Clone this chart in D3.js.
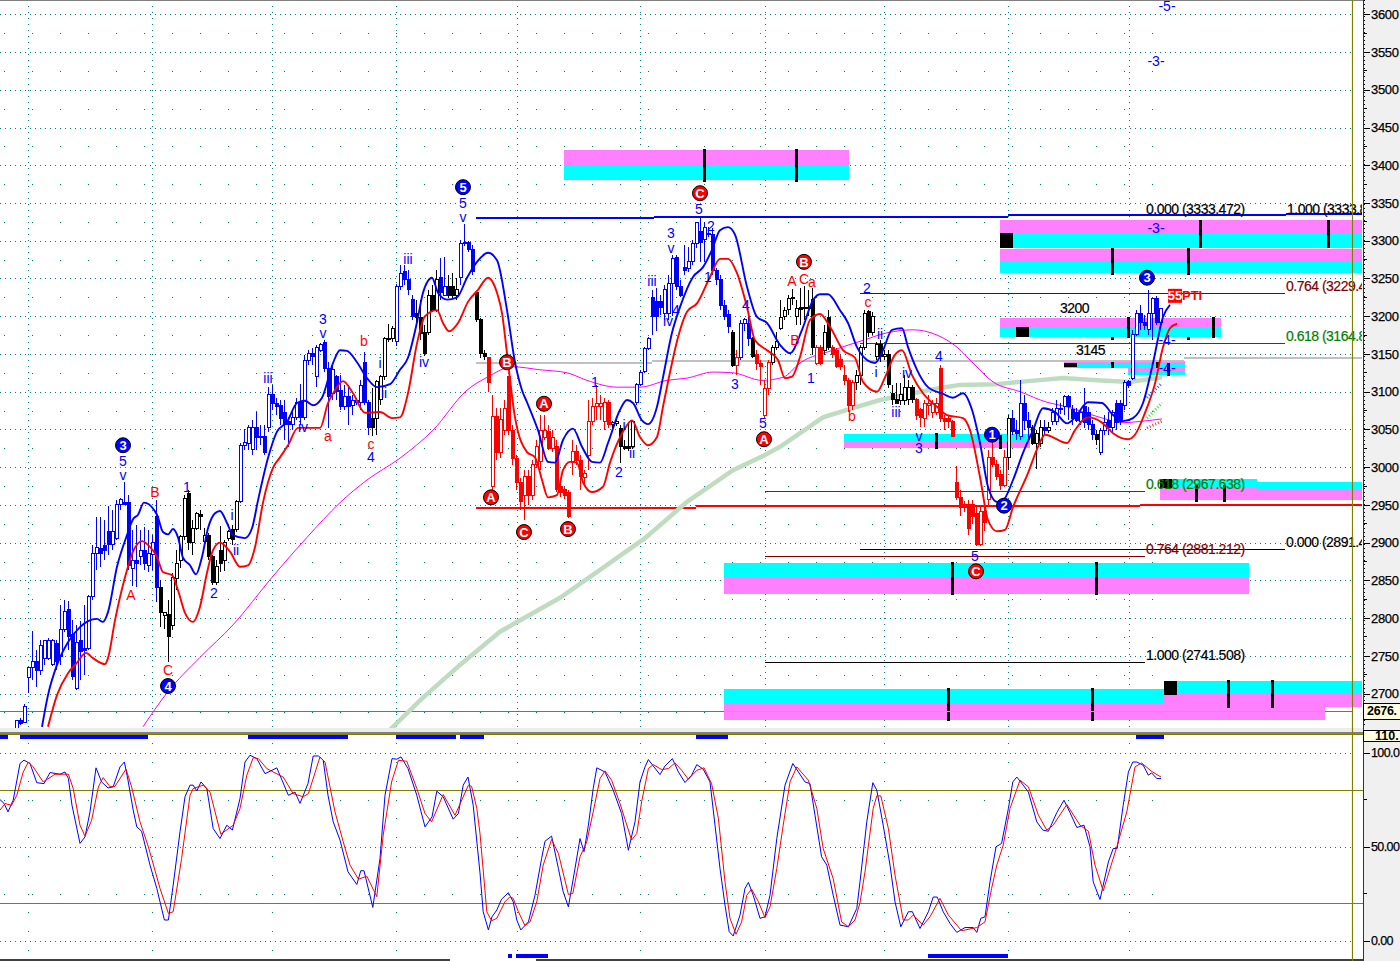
<!DOCTYPE html>
<html><head><meta charset="utf-8">
<script src="https://d3js.org/d3.v7.min.js"></script>
<style>
html,body{margin:0;padding:0;background:#fff;overflow:hidden}
text{font-family:"Liberation Sans",Arial,sans-serif}
</style></head><body><svg id="c" width="1400" height="961"></svg>
<script>
// ---- candles: [open, high, low, close], first bar is index 4
const run1=[[2648,2665,2648,2664],[2664,2668,2658,2661],[2662,2686,2661,2683],[2721,2735,2701,2735],[2735,2783,2718,2743],[2743,2758,2709,2730],[2730,2771,2725,2764],[2747,2771,2738,2770],[2747,2774,2744,2770],[2738,2772,2736,2770],[2767,2771,2731,2742],[2749,2817,2738,2785],[2785,2824,2782,2809],[2811,2823,2758,2776],[2778,2797,2718,2723],[2707,2791,2705,2768],[2770,2796,2718,2756],[2760,2817,2725,2757],[2760,2831,2758,2828],[2828,2897,2824,2885],[2885,2934,2864,2894],[2892,2934,2868,2886],[2896,2930,2877,2889],[2915,2949,2884,2898],[2898,2943,2890,2915],[2906,2957,2903,2950],[2950,2959,2943,2957],[2953,2980,2950,2950],[2953,2963,2864,2870],[2866,2917,2843,2877],[2877,2923,2841,2873],[2882,2917,2870,2889],[2889,2921,2864,2872],[2870,2917,2861,2886],[2884,2910,2864,2900],[2934,2956,2821,2840]];
const run2=[[2840,2850,2788,2807],[2804,2808,2785,2807],[2805,2824,2742,2776],[2790,2860,2784,2854],[2853,2890,2837,2873],[2877,2910,2866,2908],[2908,2963,2904,2959],[2965,2970,2890,2900],[2900,2930,2884,2919],[2919,2941,2917,2938],[2937,2943,2917,2934],[2902,2919,2897,2909],[2909,2913,2877,2881],[2881,2884,2844,2847],[2847,2877,2844,2868],[2889,2922,2861,2873],[2876,2904,2862,2900],[2905,2917,2902,2915],[2917,2923,2897,2904],[2917,2957,2914,2955]];
const run3=[[2955,3032,2953,3029],[3029,3050,3023,3033],[3032,3056,3023,3053],[3024,3063,3016,3053],[3052,3073,3023,3039],[3039,3056,3029,3041],[3041,3056,3016,3020],[3052,3106,3047,3096],[3096,3109,3076,3085],[3085,3092,3069,3081],[3082,3089,3056,3065],[3073,3089,3036,3056],[3060,3066,3027,3056],[3056,3076,3049,3066],[3066,3092,3062,3086],[3086,3110,3056,3066],[3066,3149,3062,3141],[3141,3155,3135,3151],[3151,3158,3135,3146],[3120,3162,3106,3159],[3155,3165,3152,3163],[3165,3169,3126,3131],[3131,3139,3052,3094],[3098,3135,3089,3129],[3120,3122,3089,3100],[3102,3122,3076,3080],[3080,3109,3076,3094],[3094,3109,3056,3080],[3082,3096,3069,3088],[3086,3092,3082,3088],[3086,3116,3076,3108],[3139,3153,3082,3086],[3086,3089,3043,3053]];
const run4=[[3065,3105,3041,3053],[3065,3116,3043,3113],[3089,3122,3082,3120],[3120,3173,3116,3170],[3170,3190,3166,3171],[3170,3187,3166,3184]];
const run5=[[3166,3243,3161,3240],[3240,3268,3235,3256],[3259,3268,3241,3248],[3249,3261,3228,3235],[3222,3228,3195,3200]];
const run6=[[3203,3221,3188,3198],[3198,3222,3169,3177],[3178,3188,3147,3150],[3178,3235,3175,3227],[3227,3241,3205,3208],[3208,3261,3206,3249]];
const run7=[[3251,3277,3222,3231],[3228,3278,3228,3239]];
const run8=[[3239,3255,3224,3228],[3239,3257,3224,3228],[3228,3250,3222,3236]];
const run9=[[3251,3301,3241,3296],[3296,3322,3293,3297],[3297,3299,3285,3288],[3288,3295,3255,3259]];
const run10=[[3231,3232,3192,3195],[3195,3198,3145,3151],[3151,3155,3142,3146]];
const run11=[[3145,3145,3100,3112],[2974,3096,2970,3067],[3067,3078,3010,3019],[3019,3078,3012,3063],[3049,3089,3043,3078],[3120,3121,3043,3049],[3049,3056,3003,3011],[3011,3016,2970,2980],[2980,2986,2943,2955],[2963,2996,2930,2987],[2987,2996,2950,2963],[2963,3009,2956,3003],[3003,3036,2999,3027],[3007,3069,2996,3049],[3039,3069,3036,3049],[3047,3056,3023,3025],[3025,3049,3020,3039],[3027,3036,2967,2971],[2974,2983,2961,2966],[2970,2974,2958,2963],[2966,2970,2933,2934],[3007,3036,2990,3021],[3021,3029,3003,3009],[3009,3016,2970,2987],[2986,2996,2976,2992],[3016,3089,2996,3061],[3061,3092,3056,3080],[3080,3109,3062,3084],[3081,3096,3062,3084],[3061,3092,3049,3086],[3086,3089,3052,3056]];
const run12=[[3056,3061,3052,3059],[3058,3065,3055,3060],[3051,3056,3006,3027],[3028,3036,3023,3025],[3028,3060,3022,3025],[3027,3061,3024,3061]];
const run13=[[3086,3112,3082,3109],[3110,3129,3107,3125],[3127,3159,3125,3157],[3157,3173,3155,3170],[3225,3235,3175,3199],[3220,3237,3180,3199],[3220,3228,3202,3211],[3204,3241,3195,3235],[3204,3255,3195,3244],[3244,3281,3200,3277],[3278,3281,3235,3240],[3240,3248,3225,3228],[3264,3294,3255,3261],[3263,3292,3259,3272],[3272,3301,3268,3296],[3296,3325,3290,3324],[3312,3330,3272,3298],[3301,3325,3272,3317],[3310,3318,3305,3308],[3308,3317,3255,3261],[3260,3264,3241,3248],[3248,3255,3208,3214],[3214,3221,3195,3200],[3202,3208,3178,3186]];
const run14=[[3179,3182,3133,3135]];
const run15=[[3135,3155,3122,3145]];
const run16=[[3145,3195,3142,3191],[3191,3198,3180,3195],[3191,3202,3161,3171]];
const run17=[[3170,3172,3145,3147]];
const run18=[[3149,3155,3129,3138],[3138,3142,3109,3134],[3068,3115,3065,3104],[3104,3142,3096,3139]];
const run19=[[3139,3162,3135,3159],[3159,3179,3155,3166],[3184,3221,3182,3198],[3199,3212,3195,3208],[3209,3228,3202,3224],[3225,3236,3215,3223],[3200,3221,3188,3210],[3211,3237,3188,3209],[3212,3240,3195,3210],[3212,3235,3200,3210],[3222,3237,3149,3158]];
const run20=[[3138,3162,3135,3158],[3158,3162,3135,3138]];
const run21=[[3155,3188,3149,3178],[3198,3208,3155,3159]];
const run22=[[3159,3162,3145,3149],[3154,3158,3131,3134],[3142,3149,3129,3133],[3122,3135,3109,3115],[3115,3118,3073,3082],[3082,3116,3076,3112]];
const run23=[[3112,3129,3102,3121],[3121,3162,3109,3159],[3159,3208,3155,3204],[3206,3208,3172,3178],[3178,3206,3175,3200],[3146,3166,3142,3162],[3162,3168,3139,3146],[3146,3155,3142,3149],[3149,3155,3105,3110],[3097,3109,3082,3089],[3090,3112,3085,3085],[3088,3112,3082,3096],[3088,3122,3082,3105],[3089,3116,3082,3105],[3106,3109,3085,3090]];
const run24=[[3090,3092,3062,3068],[3076,3079,3053,3066],[3065,3089,3053,3084],[3082,3096,3069,3085],[3072,3089,3065,3085],[3073,3092,3069,3085],[3131,3135,3060,3065],[3065,3069,3049,3060],[3064,3069,3052,3060],[3060,3062,3040,3041],[2980,3001,2957,2960],[2960,2970,2935,2946],[2950,2955,2940,2946],[2950,2957,2910,2919],[2950,2957,2925,2934],[2939,2950,2896,2897],[2897,2950,2896,2941],[2941,2950,2915,2927],[2957,3023,2950,3013],[3013,3036,3000,3003],[3004,3009,2983,2987],[2990,2996,2970,2976],[2976,3023,2974,3013]];
const run25=[[3013,3069,2996,3064]];
const run26=[[3064,3076,3043,3047],[3049,3062,3036,3045],[3040,3116,3036,3084],[3084,3096,3049,3062],[3062,3073,3036,3053]];
const run27=[[3053,3056,3030,3031],[3031,3049,2998,3045],[3031,3062,3027,3053]];
const run28=[[3053,3062,3043,3048]];
const run29=[[3048,3060,3045,3053]];
const run30=[[3060,3079,3056,3072],[3060,3089,3056,3078],[3076,3085,3070,3078],[3080,3096,3069,3093],[3093,3096,3062,3080],[3077,3082,3056,3064],[3073,3078,3060,3062],[3060,3076,3056,3072],[3080,3105,3052,3059],[3072,3080,3049,3056],[3057,3062,3036,3043]];
const run31=[[3043,3049,3029,3036]];
const run32=[[3019,3052,3016,3049],[3049,3069,3043,3059],[3062,3073,3043,3052],[3052,3076,3045,3072],[3085,3089,3049,3059],[3085,3089,3056,3060],[3082,3116,3076,3112],[3113,3116,3105,3108],[3118,3182,3116,3176],[3176,3208,3174,3203],[3203,3215,3182,3192],[3192,3202,3182,3188],[3183,3235,3175,3204],[3204,3224,3168,3224],[3224,3227,3188,3192],[3192,3210,3188,3210]];
const candleRuns=[["b",run1],["k",run2],["b",run3],["k",run4],["b",run5],["k",run6],["b",run7],["k",run8],["b",run9],["k",run10],["r",run11],["k",run12],["b",run13],["k",run14],["r",run15],["b",run16],["k",run17],["r",run18],["k",run19],["r",run20],["k",run21],["r",run22],["k",run23],["r",run24],["k",run25],["b",run26],["k",run27],["b",run28],["k",run29],["b",run30],["k",run31],["b",run32]];

// ---- moving averages: [bar index, price]
const maBlue=[[10.5,2656],[12,2698],[14.25,2738],[17,2768],[20,2788],[22,2796],[24.25,2799],[25.75,2795],[27,2808],[29.25,2868],[31.75,2910],[33.25,2931],[34.5,2937],[36,2953],[39.25,2937],[40.75,2914],[42,2911],[43.25,2918],[44.5,2907],[45.75,2880],[47.5,2870],[49,2858],[50.5,2881],[52,2919],[53.75,2939],[55,2942],[56.75,2926],[58.25,2910],[61.25,2906],[63,2919],[64.5,2956],[67,3012],[69.25,3047],[71.75,3060],[74.25,3085],[76.25,3088],[78.25,3082],[80.5,3092],[83.25,3138],[85,3155],[86.75,3154],[89.25,3139],[91.75,3118],[94.25,3106],[97.5,3110],[100,3129],[102,3145],[104.25,3192],[105.75,3231],[108,3251],[109.5,3231],[111.75,3222],[114.25,3225],[116.75,3251],[119.25,3272],[122,3284],[124.25,3274],[126.75,3208],[128.75,3139],[130.5,3102],[131.75,3086],[134.5,3049],[137,3007],[138.75,3006],[140.75,3036],[143.25,3051],[145.5,3027],[148,3007],[150,3006],[152,3032],[155,3076],[156.75,3089],[158.25,3085],[160.5,3062],[162,3057],[164.25,3080],[165.75,3119],[168,3178],[170,3212],[173.25,3252],[175.75,3265],[178,3288],[180,3314],[182,3318],[183.75,3308],[186.75,3239],[189.25,3199],[191.75,3191],[195,3162],[197.5,3151],[200.5,3182],[203.25,3221],[205,3229],[207,3229],[210,3208],[212,3191],[214.25,3159],[216.75,3142],[218.75,3138],[220.75,3155],[223,3182],[225.5,3184],[227,3159],[229.25,3129],[232,3106],[235.75,3097],[238.25,3092],[240.75,3098],[243,3076],[245,3032],[247,2974],[249.25,2954],[250.75,2956],[253.25,2983],[255.75,3019],[258.25,3049],[260.75,3078],[263.75,3073],[266.75,3058],[268.75,3066],[272,3086],[275.5,3085],[278.25,3069],[280.75,3061],[283.25,3065],[285.75,3085],[288.25,3138],[290.75,3199],[292.5,3215]];
const maRed=[[12,2656],[14.25,2698],[17,2727],[19.25,2741],[21.5,2754],[23.25,2747],[26.25,2739],[27,2747],[28.75,2797],[31.25,2854],[33.25,2888],[35.5,2902],[37,2897],[39.25,2881],[40.75,2861],[43,2857],[44.5,2837],[46.25,2807],[48.25,2795],[50,2815],[51.75,2860],[53.25,2890],[55,2900],[57.5,2888],[60,2868],[62,2870],[63.75,2894],[65.75,2953],[68.25,2999],[70,3013],[72,3029],[74.5,3052],[80,3052],[82,3085],[83.75,3102],[85.75,3114],[88.25,3098],[91.25,3072],[95,3073],[98,3065],[100,3066],[102,3098],[104.25,3164],[106.25,3200],[109.25,3208],[110.75,3191],[112.25,3180],[114.5,3191],[117,3219],[119.5,3235],[122,3251],[124.25,3231],[125.5,3204],[126.75,3151],[128.75,3066],[131.75,3020],[133.75,3013],[135.5,2983],[137,2960],[139.25,2963],[140.75,2996],[142.5,3007],[144.25,3006],[145.75,2980],[148,2967],[150.75,2974],[152.5,3006],[155.75,3047],[158,3062],[160,3040],[162,3029],[164.25,3040],[165.75,3080],[168,3138],[169.5,3172],[171.75,3206],[174.25,3217],[177.5,3252],[180,3276],[182,3276],[184.25,3257],[186.75,3212],[188.75,3168],[191.75,3155],[194.5,3142],[196.25,3118],[198,3120],[200,3146],[202.5,3195],[205,3203],[207.5,3186],[210.75,3155],[213.75,3145],[215.75,3113],[219.25,3100],[221.25,3119],[223.75,3149],[225.5,3155],[228,3122],[230.75,3098],[234.25,3080],[236.75,3069],[240.75,3065],[242.5,3049],[245,2987],[247,2930],[249.25,2915],[251.25,2917],[253.25,2947],[257,2992],[259.5,3027],[261.25,3043],[266.75,3032],[268.75,3049],[272,3066],[275.5,3059],[278.25,3045],[282,3037],[283.75,3043],[286.25,3072],[288.75,3111],[290.75,3159],[292.5,3184],[294.25,3190]];
const maMagenta=[[35.75,2656],[41.75,2701],[50,2748],[58.25,2791],[68,2854],[76.75,2907],[85,2953],[91.75,2983],[100,3012],[108.25,3049],[116.75,3102],[121.75,3119],[128.25,3133],[135,3129],[141.75,3125],[146.75,3115],[154.25,3106],[160,3106],[166.75,3115],[171.75,3118],[178.25,3126],[183.25,3125],[190.5,3115],[195.75,3119],[200,3138],[208.25,3155],[215.75,3168],[221.75,3178],[228.25,3182],[234.25,3175],[239.25,3159],[243.25,3138],[248.25,3113],[255,3100],[261.75,3086],[266.75,3080],[275,3066],[280.75,3059],[285.75,3061],[290.5,3064]];
const maGreen=[[97.5,2652],[105,2691],[115,2738],[125,2782],[140,2827],[150,2864],[161.25,2906],[171.75,2954],[183.25,2996],[191.25,3016],[195,3027],[200,3045],[205.75,3066],[211.75,3076],[220,3089],[228.25,3098],[235,3105],[240,3109],[249.25,3110],[255,3113],[265.75,3118],[274.25,3115],[282.5,3113],[290.5,3119]];
const hatchBlue=[[286.75,3092],[290.5,3111.5]],hatchGreen=[[286.75,3065],[290.5,3085]],hatchRed=[[286.75,3052],[290.5,3061]];

// ---- stochastic oscillator: [bar index, value]
const stochK=[[0,75],[1,73],[2,68.5],[3.3,74.7],[5,94.2],[6,96],[7.5,94.2],[9.2,84],[11,83.5],[12.5,89.4],[15,88.5],[16.25,89.7],[17.1,86.2],[18,72],[20,51.7],[21.25,55.2],[22.5,68.5],[24,91.9],[25.4,84.4],[27,81.2],[28.3,81.8],[30,92.4],[31.1,95],[32,85.3],[33.3,69.4],[34.2,60.5],[35.4,58.2],[37.5,40.2],[39.2,27.8],[41.1,11],[42.1,11],[43.3,29.6],[45,57.9],[46.25,76.5],[47.5,82.7],[48.3,82.7],[49.2,79.6],[50.25,84.4],[51.7,80.9],[53.3,59.6],[55,54.3],[56.7,61.4],[58.1,58.8],[60,75.6],[61.25,95],[62.5,98.6],[64.2,96.8],[66.25,88.8],[68,90.6],[69.2,91.9],[72.1,77.3],[73.75,79],[75,73],[77,83.5],[78.3,98.2],[79.6,98.2],[80.8,96],[82,77.3],[83.3,63.2],[85,53.5],[87,36.6],[89.2,29.9],[90.2,37.2],[91,37.2],[93.2,17.7],[95,43.7],[96.25,77.3],[98,96.8],[99.2,96.5],[100.25,97.7],[102,91.5],[104.2,77.3],[106.25,60.5],[108,65.8],[109.2,79.5],[110.8,76.5],[113.3,64.6],[114.6,67.6],[115.8,82.7],[117,87],[118.3,72],[120,36],[120.8,15.4],[122.1,5.7],[123,12.7],[124.2,16.3],[125.4,22.1],[127.1,25.5],[128.3,20.7],[129.2,11],[130.2,5.7],[132.1,10],[133.75,24.2],[135.4,43.7],[136.25,52.9],[137.9,55.6],[139.6,38.4],[140.8,26],[142.1,18],[143.75,38.4],[145,54.3],[146,47.3],[147.1,61.4],[148.3,80.9],[149.2,91.9],[151.25,89.7],[153.3,80],[155.4,67.6],[157.1,48.1],[158.75,63.2],[160,84.4],[161.25,92.4],[162.1,96.3],[163.3,92.9],[165,88.3],[166.25,92.9],[168.1,96.8],[169.6,89.7],[171.25,84.1],[172.9,88],[174.2,93.6],[175.8,91.2],[177.5,84.4],[178.75,61.4],[180,38.4],[181.25,18.9],[182.3,4.8],[183.3,2.5],[185,13.6],[186.25,27.8],[187.1,31],[188.3,24.2],[190,11.9],[191.25,12.7],[192.5,24.2],[194.2,54.3],[196.25,82.7],[198.2,94.2],[199.6,89.7],[201.25,84.4],[202.5,83.5],[203.75,66.7],[205.4,44.6],[206.7,40.2],[208.3,24.2],[210,8.3],[212.1,7.4],[214.2,17.2],[215,31.3],[216.7,63.2],[218.2,84],[219.2,80],[220.8,61.4],[222.5,40.2],[223.75,20.7],[225.2,7.4],[227.1,15.4],[228.1,15.4],[230,6.5],[232.1,15.4],[233.3,23.2],[234.3,23.2],[235.8,15.4],[237.5,9.2],[239.2,4.4],[241.25,7],[243.3,7],[244.2,4.4],[245.2,11.9],[246.25,12.7],[247.5,31.3],[249,49.9],[250.4,51.7],[252.1,70.3],[253.2,84.4],[254.2,87],[255.8,82.7],[257.1,79],[259.2,63.2],[260.7,58.8],[262.1,58.2],[264.2,68.1],[266,74.7],[267.5,68.1],[269.2,60.2],[271,61.4],[272.5,49.9],[273.3,31.3],[275,21.9],[277.1,41.9],[278.3,49],[279.3,49],[280.8,72],[282.1,89.7],[283.2,95],[284.2,95],[285.8,93.3],[287.1,88],[287.9,89.2],[289.2,86.2],[290.25,86.2]];
const stochD=[[0,69.4],[1.25,72.9],[2.9,72],[4.2,77.3],[5.8,89.7],[7.1,95],[8.3,92.4],[10.8,84.4],[13.75,88.5],[17.1,88.5],[18.3,80.9],[20,61.4],[21.25,55.6],[22.9,64],[24.6,81.8],[25.8,86.7],[27.5,81.8],[28.75,82.1],[31.5,91.2],[32.9,81.8],[35,63.2],[37.1,49.9],[40,27.8],[42.1,14.5],[43.3,15.4],[45.4,43.7],[47.5,77.3],[48.3,80.9],[50.8,82.7],[52.5,79],[55.2,56.6],[58.3,61.4],[60,70.3],[61.7,88],[63.3,97.3],[64.6,96.8],[66.7,91.5],[68.3,89.7],[70.8,87],[73.3,78.2],[75.8,76.5],[77.1,78.2],[80,97.7],[81.25,95],[83.75,68.5],[85.8,52.6],[87.5,40.2],[89.6,32.7],[91.7,34.3],[94.2,23.4],[95.8,56.1],[97.9,84.4],[99.6,95.9],[101.7,95.4],[104.2,80.9],[106.25,67.6],[107.9,63.2],[110.8,77.7],[113.75,66.7],[117.1,82.7],[117.9,82.1],[119.2,70.3],[120,57],[121.7,15.4],[122.9,10.6],[124.2,11.9],[126.25,20.7],[127.5,23.4],[128.3,22.5],[129.6,15.4],[131.25,8],[132.5,10],[134.2,20.7],[135.8,40.2],[137.9,53.8],[139.6,46.4],[142.1,24.6],[143.2,25.1],[145,44.6],[146.7,52.6],[148.3,68.5],[150,86.2],[151.25,90.3],[152.9,85.3],[155,72.9],[157.9,53.5],[159.2,57],[160.4,73.8],[162.1,91.5],[163.3,93.6],[165.4,91],[167.1,91.5],[168.75,94.5],[170.4,90.6],[172.1,85.8],[174.2,90.6],[176,91.9],[177.9,83.5],[179.6,65],[181.25,31.3],[182.5,11.9],[184,3.4],[185.4,10],[186.7,24.2],[187.9,27.4],[189.6,20.7],[191.25,12.2],[192.5,18],[194.2,38.4],[195.8,61.4],[197.5,84.4],[199.2,92.4],[202.1,85.3],[204.2,70.3],[205.8,49],[208.3,33],[210.4,10],[212.1,7.4],[213.75,11],[215,20.2],[216.25,36.6],[218.3,70.3],[219.2,77],[220.2,77],[222.1,59.6],[223.75,34.9],[225.8,11],[227.1,11],[228.3,13.6],[230.8,8.3],[232.5,12.7],[235,22.5],[237.1,13.6],[240.4,5.3],[244.2,7],[246.25,10],[247.9,27.8],[249.2,40.2],[250.8,50.8],[252.5,70.3],[255,85.3],[257.1,81.8],[259.6,66.7],[261.7,58.8],[263.3,61.4],[266.7,72.4],[270,61.4],[272.1,58.2],[273.75,40.2],[275.8,26.5],[279.2,49.9],[281.7,68.5],[283.75,92.4],[285.4,94.5],[287.9,90],[290.25,87]];

// ---- time/price zones: [from bar, to bar, price top, price bottom, kind]
const zones=[[141,212.25,3420,3400,"m"],[141,212.25,3400,3380.5,"c"],[250,340.5,3327.5,3309,"m"],[250,340.5,3309,3290.5,"c"],[250,340.5,3289,3272,"m"],[250,340.5,3272,3257,"c"],[250,305.25,3198,3184,"m"],[250,305.25,3184,3172.5,"c"],[266,296.25,3141,3137,"m"],[266,296.25,3137,3131,"c"],[282,296.25,3131,3126,"m"],[282,296.25,3126,3122,"c"],[211,257.5,3044,3035,"c"],[211,257.5,3035,3025,"m"],[290,314.25,2984,2974,"c"],[290,314.25,2974,2956.5,"m"],[314.25,340.5,2980,2970,"c"],[314.25,340.5,2970,2956.5,"m"],[181,312.25,2873,2853,"c"],[181,312.25,2853,2832,"m"],[181,291,2706,2686,"c"],[181,331.25,2686,2665,"m"],[291,340.5,2717,2699.5,"c"],[291,340.5,2699.5,2682,"m"]];
const zoneBars=[[176.1,3422,3378],[199.1,3422,3378],[300,3328,3290.5],[332,3328,3290.5],[278,3290.5,3255],[297,3290.5,3255],[282,3199,3171],[303.25,3199,3171],[278,3172,3169],[297,3172,3169],[278,3142,3131],[289.25,3142,3131],[292,3138,3121],[234,3045,3024],[250,3043,3024],[299,2976,2954],[306,2976,2954],[238,2874,2831],[274,2874,2831],[237,2707,2664],[273,2707,2664],[307,2718,2681],[318,2718,2681]];
const zoneBlocks=[[250,253.25,3310,3290.5],[254,257.25,3186,3172.5],[266,269.25,3138,3133],[290,293,2984,2972],[291,294.25,2717,2698]];

// ---- horizontal levels: [from bar, to bar, price]
const levelBlue=[[119,163.5,3330],[163.5,252,3332],[252,321.5,3334],[321.5,340.5,3335]];
const levelGray=[[119,163,3138],[163,296,3141],[296,340.5,3145]];
const levelRed=[[119,174,2946],[174,285,2948],[285,340.5,2950]];
const levelThin=[[252,286.25,3333,"#000"],[215,321.25,3229.5,"#800000"],[215,321.25,3164,"#006400"],[191.25,286.25,2968,"#006400"],[215,321.25,2891,"#000"],[191.25,286.25,2881.5,"#800000"],[191.25,286.25,2741.5,"#000"]];
const fibLabels=[["0.000 (3333.472)",286.5,3342,"#000"],["1.000 (3333.8",321.75,3342,"#000"],["0.764 (3229.4",321.5,3240,"#800000"],["0.618 (3164.8",321.5,3174,"#008000"],["0.618 (2967.638)",286.5,2978,"#008000"],["0.764 (2881.212)",286.5,2892,"#800000"],["0.000 (2891.4",321.5,2901,"#000"],["1.000 (2741.508)",286.5,2751,"#000"],["3200",265,3211,"#000"],["3145",269,3155,"#000"]];

// ---- wave labels: [text, bar, price]
const waveBlue=[["5",30.75,3008],["v",30.75,2990],["1",46.75,2974],["2",53.5,2833],["i",58,2937],["ii",59,2890],["iii",67,3118],["iv",75.75,3053],["3",80.75,3196],["v",80.75,3178],["4",92.75,3013],["i",95,3138],["ii",96,3098],["iii",102,3276],["iv",106,3139],["5",115.75,3350],["v",115.75,3331],["1",148.75,3113],["2",154.75,2994],["i",156,3056],["ii",158,3019],["iii",163,3247],["iv",167,3194],["3",167.75,3310],["v",167.75,3290],["4",169,3208],["5",174.75,3342],["2",177.75,3320],["1",177,3252],["4",186.5,3215],["3",183.75,3110],["5",190.75,3059],["1",202.75,3118],["2",216.75,3237],["i",219,3126],["ii",220,3176],["iii",224,3073],["iv",226.75,3125],["4",234.75,3147],["v",229.75,3041],["3",229.75,3025],["5",243.75,2882],["-5-",291.75,3611],["-3-",289,3538],["-3-",289,3317],["-4-",291.75,3168],["-4-",291.75,3131]];
const waveRed=[["A",32.75,2831],["B",38.75,2967],["C",42,2731],["a",82,3041],["b",91,3167],["c",92.75,3031],["A",198,3247],["C",201,3249],["a",203,3245],["B",198.75,3168],["b",213,3068],["c",217,3219]];
const circledBlue=[["3",30.75,3029],["4",42,2710],["5",115.75,3371],["1",248,3043],["2",251,2949],["3",286.75,3251]];
const circledRed=[["C",175,3363],["B",201,3272],["B",126.75,3139],["A",122.75,2960],["A",136,3084],["C",131,2914],["B",142,2918],["A",191,3037],["C",244,2862]];

// ---- axes and grid
const priceTicks=d3.range(2700,3601,50);
const priceMinor=d3.range(2675,3600,50);
const oscTicks=[100,50,0];
const oscLabels={100:"100.0",50:"50.00",0:"0.00"};
const oscGuides=[80,20];
const oscMinor=[75,25];
const oscDots=d3.range(-5,106,10);
const gridBars=[7,38,68,99,129.25,160,191.25,221,252,282.25];
const dotBars=d3.range(1,289,7);
const flagTop=[[0,2],[5,37],[62,87],[99,114],[115,121],[174,182],[284,291]];
const flagBottom=[[127,128],[129,137],[232,252]];
const lastPrice=2677, lastPriceLabel="2676.", oscLastLabel="110.";

const tone={b:"#0000ff",k:"#000000",r:"#ff0000"};
const W=1400,H=961,plotR=1363;
const x=d3.scaleLinear().domain([0,340.75]).range([0,plotR]);
const y=d3.scaleLinear().domain([2700,3600]).range([693.6,14.3]);
const o=d3.scaleLinear().domain([0,100]).range([940.7,752.6]);
const svg=d3.select("#c");
svg.append("defs").append("clipPath").attr("id","top").append("rect").attr("width",1362).attr("height",728);
const dotC="#008080";
const crisp=v=>Math.round(v)+.5;

// grid, top pane
const gT=svg.append("g").attr("clip-path","url(#top)");
gT.append("g").selectAll("line").data(priceTicks).join("line").attr("x1",0).attr("x2",1352)
  .attr("y1",d=>crisp(y(d))).attr("y2",d=>crisp(y(d))).attr("stroke",dotC).attr("stroke-dasharray","1 4");
gT.append("g").selectAll("line").data(gridBars).join("line").attr("x1",d=>crisp(x(d))).attr("x2",d=>crisp(x(d)))
  .attr("y1",0).attr("y2",728).attr("stroke",dotC).attr("stroke-dasharray","1 5");
priceMinor.forEach(p=>gT.append("g").selectAll("rect").data(dotBars).join("rect")
  .attr("x",d=>Math.round(x(d))).attr("y",Math.round(y(p))).attr("width",1).attr("height",1).attr("fill",dotC));

// zones
gT.append("g").selectAll("rect").data(zones).join("rect").attr("shape-rendering","crispEdges")
  .attr("x",d=>x(d[0])).attr("width",d=>x(d[1])-x(d[0])).attr("y",d=>y(d[2])).attr("height",d=>y(d[3])-y(d[2]))
  .attr("fill",d=>d[4]==="c"?"#00ffff":"#ff80ff");
gT.append("g").selectAll("rect").data(zoneBars).join("rect").attr("shape-rendering","crispEdges")
  .attr("x",d=>x(d[0])-1.5).attr("width",3).attr("y",d=>y(d[1])).attr("height",d=>y(d[2])-y(d[1])).attr("fill","#000");
gT.append("g").selectAll("rect").data(zoneBlocks).join("rect").attr("shape-rendering","crispEdges")
  .attr("x",d=>x(d[0])).attr("width",d=>x(d[1])-x(d[0])).attr("y",d=>y(d[2])).attr("height",d=>y(d[3])-y(d[2])).attr("fill","#000");

// levels
function levels(a,c,w){gT.append("g").selectAll("line").data(a).join("line").attr("shape-rendering","crispEdges")
  .attr("x1",d=>x(d[0])).attr("x2",d=>x(d[1])).attr("y1",d=>y(d[2])).attr("y2",d=>y(d[2])).attr("stroke",d=>d[3]||c).attr("stroke-width",w);}
levels(levelGray,"#c0c0c0",2);
levels(levelRed,"#ff0000",2);
levels(levelThin,null,1);
levels(levelBlue,"#0000ff",2);
gT.append("line").attr("x1",0).attr("x2",1352).attr("y1",crisp(y(lastPrice))).attr("y2",crisp(y(lastPrice))).attr("stroke","#808000").attr("shape-rendering","crispEdges");
gT.append("line").attr("x1",x(181)).attr("x2",x(331.25)).attr("y1",crisp(y(lastPrice))).attr("y2",crisp(y(lastPrice))).attr("stroke","#9acd32").attr("shape-rendering","crispEdges");

// long averages under the candles
const mono=d3.line().x(d=>x(d[0])).y(d=>y(d[1])).curve(d3.curveMonotoneX);
gT.append("path").attr("d",d3.line().x(d=>x(d[0])).y(d=>y(d[1]))(maGreen)).attr("fill","none").attr("stroke","#c0dcc0").attr("stroke-width",4.5);
gT.append("path").attr("d",mono(maMagenta)).attr("fill","none").attr("stroke","#ff00ff").attr("stroke-width",1);

// candles
let idx=4;const bars=[];
candleRuns.forEach(([t,rows])=>rows.forEach(r=>bars.push({i:idx++,t,o:r[0],h:r[1],l:r[2],c:r[3]})));
const gC=gT.append("g").attr("shape-rendering","crispEdges");
gC.selectAll(".w").data(bars).join("line").attr("class","w").attr("x1",d=>x(d.i)+.5).attr("x2",d=>x(d.i)+.5)
  .attr("y1",d=>y(d.h)).attr("y2",d=>y(d.l)).attr("stroke",d=>tone[d.t]);
gC.selectAll(".b").data(bars).join("rect").attr("class","b").attr("x",d=>x(d.i)-1).attr("width",3)
  .attr("y",d=>y(Math.max(d.o,d.c))).attr("height",d=>Math.max(1,Math.abs(y(d.o)-y(d.c))))
  .attr("fill",d=>d.c>d.o?"#fff":tone[d.t]).attr("stroke",d=>tone[d.t]);

// short averages
gT.append("path").attr("d",mono(maRed)).attr("fill","none").attr("stroke","#ff0000").attr("stroke-width",1.9);
gT.append("path").attr("d",mono(maBlue)).attr("fill","none").attr("stroke","#0000ff").attr("stroke-width",1.9);
[[hatchBlue,"#4060ff"],[hatchGreen,"#40e040"],[hatchRed,"#ff3030"]].forEach(([h,c])=>{
  gT.append("path").attr("d",d3.line().x(d=>x(d[0])).y(d=>y(d[1]))(h)).attr("fill","none").attr("stroke",c).attr("stroke-width",3).attr("stroke-dasharray","1 2");
});

// text
gT.append("g").selectAll("text").data(fibLabels).join("text").attr("x",d=>x(d[1])).attr("y",d=>y(d[2])).attr("dy","0.35em")
  .attr("font-size",14).attr("letter-spacing",-.5).attr("fill",d=>d[3]).attr("stroke",d=>d[3]).attr("stroke-width",.2).text(d=>d[0]);
function wave(a,c){gT.append("g").selectAll("text").data(a).join("text").attr("x",d=>x(d[1])).attr("y",d=>y(d[2])).attr("dy","0.35em")
  .attr("text-anchor","middle").attr("font-size",14).attr("fill",c).text(d=>d[0]);}
wave(waveBlue,"#0000ff");wave(waveRed,"#ff0000");
function circled(a,c){const g=gT.append("g").selectAll("g").data(a).join("g").attr("transform",d=>`translate(${x(d[1])},${y(d[2])})`);
  g.append("circle").attr("r",7.5).attr("fill",c).attr("stroke","#000").attr("stroke-width",1);
  g.append("text").attr("text-anchor","middle").attr("dy","0.36em").attr("font-size",13).attr("font-weight","bold").attr("fill","#fff").text(d=>d[0]);}
circled(circledBlue,"#0000ff");circled(circledRed,"#ff0000");

// PTI flag
const flagBar=292, flagPrice=3227;
gT.append("rect").attr("x",x(flagBar)).attr("y",y(flagPrice)-7).attr("width",14).attr("height",14).attr("fill","#ff0000");
gT.append("text").attr("x",x(flagBar)+7).attr("y",y(flagPrice)).attr("dy","0.35em").attr("text-anchor","middle").attr("font-size",13).attr("font-weight","bold").attr("fill","#fff").text("55");
gT.append("text").attr("x",x(flagBar)+14).attr("y",y(flagPrice)).attr("dy","0.35em").attr("font-size",13).attr("font-weight","bold").attr("fill","#ff0000").text("PTI");

// separator
svg.append("rect").attr("x",0).attr("y",728).attr("width",plotR).attr("height",4).attr("fill","#ececec");
svg.append("rect").attr("x",0).attr("y",732).attr("width",plotR).attr("height",2).attr("fill","#808080");
svg.append("rect").attr("x",0).attr("y",734).attr("width",plotR).attr("height",1).attr("fill","#808000");
svg.append("rect").attr("x",0).attr("y",0).attr("width",W).attr("height",1).attr("fill","#808080");
svg.append("g").selectAll("rect").data(flagTop).join("rect").attr("x",d=>x(d[0])).attr("width",d=>x(d[1])-x(d[0])).attr("y",735).attr("height",4).attr("fill","#0000ff");

// lower pane
const gO=svg.append("g");
gO.append("g").selectAll("line").data(oscTicks).join("line").attr("x1",0).attr("x2",1352)
  .attr("y1",d=>crisp(o(d))).attr("y2",d=>crisp(o(d))).attr("stroke",dotC).attr("stroke-dasharray","1 4");
gridBars.forEach(b=>gO.append("g").selectAll("rect").data(oscDots).join("rect").attr("x",Math.round(x(b))).attr("y",d=>Math.round(o(d))).attr("width",1).attr("height",1).attr("fill",dotC));
oscMinor.forEach(v=>gO.append("g").selectAll("rect").data(dotBars).join("rect").attr("x",d=>Math.round(x(d))).attr("y",Math.round(o(v))).attr("width",1).attr("height",1).attr("fill",dotC));
gO.append("g").selectAll("line").data(oscGuides).join("line").attr("x1",0).attr("x2",plotR)
  .attr("y1",d=>crisp(o(d))).attr("y2",d=>crisp(o(d))).attr("stroke","#808000").attr("shape-rendering","crispEdges");
const oLine=d3.line().x(d=>x(d[0])).y(d=>o(d[1]));
gO.append("path").attr("d",oLine(stochK)).attr("fill","none").attr("stroke","#0000ff").attr("stroke-width",1);
gO.append("path").attr("d",oLine(stochD)).attr("fill","none").attr("stroke","#ff0000").attr("stroke-width",1);
gO.append("g").selectAll("rect").data(flagBottom).join("rect").attr("x",d=>x(d[0])).attr("width",d=>x(d[1])-x(d[0])).attr("y",954).attr("height",4).attr("fill","#0000ff");

// time strip
const timeStrip=[[0,112.5],[134,340.75]];
svg.append("g").selectAll("line").data(timeStrip).join("line").attr("x1",d=>x(d[0])).attr("x2",d=>x(d[1])).attr("y1",960).attr("y2",960).attr("stroke","#000").attr("stroke-width",1.5);

// vertical olive cursor
svg.append("line").attr("x1",1352.5).attr("x2",1352.5).attr("y1",0).attr("y2",H).attr("stroke","#808000").attr("stroke-width",1.2);

// right axis
svg.append("rect").attr("x",plotR).attr("y",0).attr("width",W-plotR).attr("height",H).attr("fill","#f0f0f0");
const axTop=svg.append("g").attr("transform",`translate(${plotR+1},0)`).call(d3.axisRight(y).tickValues(priceTicks).tickSize(6).tickPadding(1).tickFormat(d3.format("d")));
const axOsc=svg.append("g").attr("transform",`translate(${plotR+1},0)`).call(d3.axisRight(o).tickValues(oscTicks).tickSize(6).tickPadding(1).tickFormat(d=>oscLabels[d]));
[axTop,axOsc].forEach(a=>{a.select(".domain").remove();a.selectAll("text").attr("font-size",13).attr("letter-spacing",-.35).attr("font-family","Liberation Sans").attr("fill","#000").attr("stroke","#000").attr("stroke-width",.25);a.selectAll("line").attr("stroke","#000").attr("shape-rendering","crispEdges");});
axOsc.selectAll("text").attr("font-size",12.5).attr("letter-spacing",-.6);
svg.append("g").selectAll("line").data(priceMinor).join("line").attr("x1",plotR+1).attr("x2",plotR+4).attr("y1",d=>y(d)).attr("y2",d=>y(d)).attr("stroke","#000").attr("shape-rendering","crispEdges");
svg.append("g").selectAll("line").data(oscMinor).join("line").attr("x1",plotR+1).attr("x2",plotR+4).attr("y1",d=>o(d)).attr("y2",d=>o(d)).attr("stroke","#000").attr("shape-rendering","crispEdges");
svg.append("line").attr("x1",plotR+1.5).attr("x2",plotR+1.5).attr("y1",0).attr("y2",727).attr("stroke","#000").attr("stroke-dasharray","1 3");
svg.append("line").attr("x1",plotR+.5).attr("x2",plotR+.5).attr("y1",0).attr("y2",H).attr("stroke","#333").attr("stroke-width",1);

// value flags on the axis
const gF=svg.append("g");
gF.append("rect").attr("x",plotR+.5).attr("y",crisp(y(lastPrice))-8).attr("width",W-plotR).attr("height",16).attr("fill","#ffffe1").attr("stroke","#000");
gF.append("text").attr("x",plotR+4).attr("y",y(lastPrice)).attr("dy","0.36em").attr("font-size",12.5).attr("letter-spacing",-.3).attr("font-weight","bold").text(lastPriceLabel);
gF.append("rect").attr("x",plotR+.5).attr("y",730.5).attr("width",W-plotR).attr("height",11).attr("fill","#ffffe1").attr("stroke","#000");
gF.append("text").attr("x",plotR+12).attr("y",740).attr("font-size",12.5).attr("font-weight","bold").text(oscLastLabel);
</script></body></html>
